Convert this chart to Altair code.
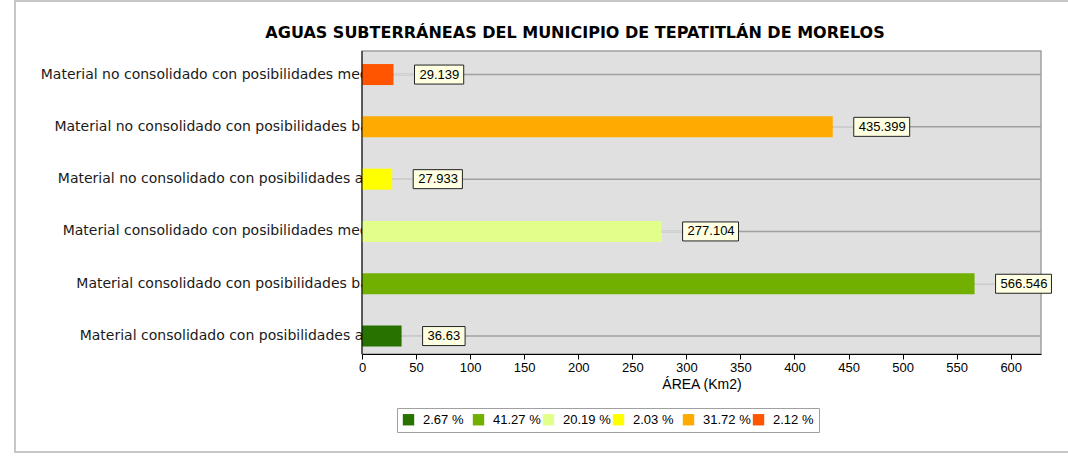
import altair as alt
import pandas as pd

# ---- data ----
title_text = "AGUAS SUBTERRÁNEAS DEL MUNICIPIO DE TEPATITLÁN DE MORELOS"
categories = [
    "Material no consolidado con posibilidades medias",
    "Material no consolidado con posibilidades bajas",
    "Material no consolidado con posibilidades altas",
    "Material consolidado con posibilidades medias",
    "Material consolidado con posibilidades bajas",
    "Material consolidado con posibilidades altas",
]
areas = [29.139, 435.399, 27.933, 277.104, 566.546, 36.63]
percents = ["2.12 %", "31.72 %", "2.03 %", "20.19 %", "41.27 %", "2.67 %"]
colors = ["#ff5500", "#ffaa00", "#ffff00", "#e1ff8a", "#72b000", "#287300"]
legend_order = percents[::-1]
legend_colors = colors[::-1]
x_ticks = list(range(0, 601, 50))

W, H = 679, 303
XMAX = 628

df = pd.DataFrame({"cat": categories, "area": areas, "pct": percents})
one = pd.DataFrame({"k": [0]})

y_enc = alt.Y(
    "cat:N",
    sort=categories,
    scale=alt.Scale(domain=categories, range=[-2.6, 311.2], paddingInner=0, paddingOuter=0),
    axis=alt.Axis(
        title=None, domain=False, ticks=False, grid=False,
        labelPadding=-26, labelFontSize=14, labelFont="DejaVu Sans",
        labelColor="#1a1a1a", labelLimit=500, zindex=0,
    ),
)
x_enc = alt.X(
    "area:Q",
    scale=alt.Scale(domain=[0, XMAX], nice=False, zero=True),
    axis=alt.Axis(
        values=x_ticks, title="ÁREA (Km2)", grid=False,
        domainColor="black", domainWidth=1, tickColor="black", tickSize=5,
        labelFontSize=13, labelFont="Liberation Sans", labelColor="black",
        labelFlush=False, titleFont="Liberation Sans", titleFontSize=14,
        titleFontWeight="normal", titleColor="black", titlePadding=3, zindex=1,
    ),
)

base = alt.Chart(df)

frame = alt.Chart(one).mark_rect(fillOpacity=0, stroke="#b4b4b4", strokeWidth=1.5).encode(
    x=alt.value(-347), x2=alt.value(720), y=alt.value(-50), y2=alt.value(401)
)
title = alt.Chart(one).mark_text(
    text=title_text, font="DejaVu Sans", fontSize=16, fontWeight="bold",
    color="black", align="center", baseline="alphabetic",
).encode(x=alt.value(213), y=alt.value(-13))
plotbg = alt.Chart(one).mark_rect(color="#e0e0e0").encode(
    x=alt.value(1), x2=alt.value(W - 1), y=alt.value(1), y2=alt.value(H - 1)
)
grid = base.mark_rule(color="#a0a0a0", strokeWidth=1.5).encode(
    y=y_enc, x=alt.value(0), x2=alt.value(W)
)
connector = base.mark_rule(color="#d6d6d6", strokeWidth=1.5, x2Offset=21).encode(
    y=y_enc, x=x_enc, x2=alt.X2("area:Q")
)
bars = base.mark_bar(size=21).encode(
    y=y_enc,
    x=x_enc,
    color=alt.Color(
        "pct:N",
        scale=alt.Scale(domain=legend_order, range=legend_colors),
        legend=alt.Legend(
            title=None, orient="none", legendX=35, legendY=357,
            direction="horizontal", columns=6, symbolType="square",
            symbolSize=130, symbolStrokeWidth=0, symbolOpacity=1,
            labelFontSize=13, labelFont="Liberation Sans", labelColor="black",
            labelOffset=8, columnPadding=1, strokeColor="#a0a0a0",
            padding=5, fillColor="white", gridAlign="all",
        ),
    ),
)
labelled = base.transform_calculate(
    label="'' + datum.area",
    bx="datum.area + (6.7 * length('' + datum.area) + 9) * %d / %d" % (XMAX, W),
)
boxes = labelled.mark_bar(
    size=19, fill="#ffffe1", stroke="#222222", strokeWidth=1, xOffset=21, x2Offset=21
).encode(y=y_enc, x=x_enc, x2=alt.X2("bx:Q"))
texts = labelled.mark_text(
    align="left", baseline="middle", dx=26, fontSize=13, font="Liberation Sans", color="black"
).encode(y=y_enc, x=x_enc, text="label:N")
yline = alt.Chart(one).mark_rule(color="black", strokeWidth=1).encode(
    x=alt.value(0), y=alt.value(0), y2=alt.value(H)
)

chart = (
    alt.layer(frame, title, plotbg, grid, connector, bars, boxes, texts, yline)
    .resolve_scale(y="shared", x="shared")
    .properties(
        width=W,
        height=H,
        autosize="none",
        padding={"left": 362, "top": 51, "right": 27, "bottom": 104},
        background="white",
    )
    .configure_view(stroke="#a0a0a0", strokeWidth=1.5, fill="#e0e0e0")
)

chart.save("out.html", embed_options={"renderer": "svg", "actions": False})
